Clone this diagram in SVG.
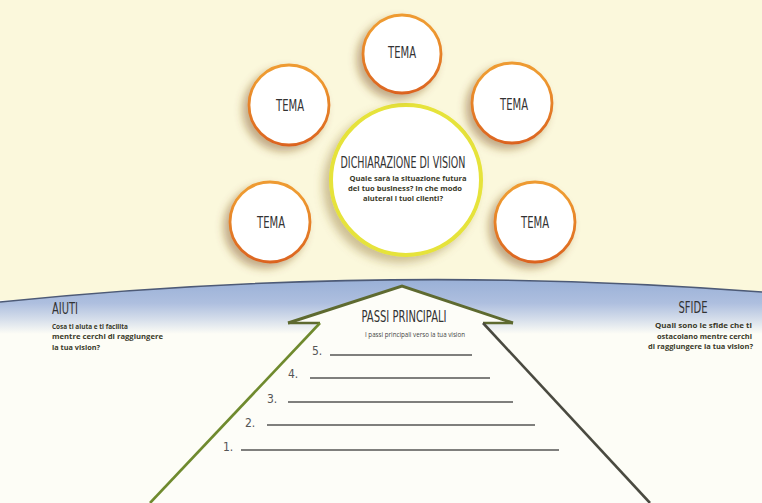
<svg xmlns="http://www.w3.org/2000/svg" width="762" height="503" viewBox="0 0 762 503">
<defs>
<linearGradient id="band" x1="0" y1="278" x2="0" y2="334" gradientUnits="userSpaceOnUse">
<stop offset="0" stop-color="#98afd6"/>
<stop offset="0.45" stop-color="#aebfdf"/>
<stop offset="0.72" stop-color="#d3dcea"/>
<stop offset="1" stop-color="#fdfdf6"/>
</linearGradient>
<radialGradient id="ring" cx="0.5" cy="0.35" r="0.7">
<stop offset="0.6" stop-color="#ee9a30"/>
<stop offset="1" stop-color="#d8581c"/>
</radialGradient>
<filter id="sh" x="-40%" y="-40%" width="180%" height="180%">
<feDropShadow dx="-5" dy="5" stdDeviation="4" flood-color="#7a4a18" flood-opacity="0.45"/>
</filter>
<filter id="shc" x="-40%" y="-40%" width="180%" height="180%">
<feDropShadow dx="-6" dy="6" stdDeviation="5" flood-color="#8a6a28" flood-opacity="0.4"/>
</filter>
</defs>
<style>
.tema{font-family:"DejaVu Sans Condensed","DejaVu Sans",sans-serif;font-size:16px;fill:#333;text-anchor:middle}
.ttl{font-family:"DejaVu Sans Condensed","DejaVu Sans",sans-serif;fill:#333}
.body{font-family:"Open Sans","DejaVu Sans",sans-serif;font-weight:bold;font-size:7px;fill:#3a3a2a}
.num{font-family:"DejaVu Sans Condensed","DejaVu Sans",sans-serif;font-size:12px;fill:#555}
.wl{stroke:#555;stroke-width:1.3}
.small{fill:#fff;stroke:url(#ring);stroke-width:2.8}
</style>
<rect x="0" y="0" width="762" height="503" fill="#fbf8dc"/>
<rect x="0" y="300" width="762" height="203" fill="#fdfdf6"/>
<path d="M0,302 Q380,263 762,292 L762,336 L0,336 Z" fill="url(#band)"/>
<path d="M0,302 Q380,263 762,292" fill="none" stroke="#4d5a76" stroke-width="1.6"/>

<g id="arrow">
<path d="M402,286 L513,323 L483,323 L650,503 L150,503 L320,323 L288,323 Z" fill="#fdfdf8"/>
<path d="M288,323 L402,286 L513,323" fill="none" stroke="#5e6a30" stroke-width="3"/>
<path d="M288,323 L320,323" fill="none" stroke="#5e6a30" stroke-width="2.5"/>
<path d="M483,323 L513,323" fill="none" stroke="#5e6a30" stroke-width="2.5"/>
<path d="M320,323 L150,503" fill="none" stroke="#6f8a2e" stroke-width="2.6"/>
<path d="M483,323 L650,503" fill="none" stroke="#4a4a40" stroke-width="2.6"/>
</g>

<g id="center">
<circle cx="406" cy="180" r="75" fill="#fff" stroke="#e6e33a" stroke-width="4" filter="url(#shc)"/>
<text class="ttl" x="403" y="168" font-size="15" text-anchor="middle" textLength="125" lengthAdjust="spacingAndGlyphs">DICHIARAZIONE DI VISION</text>
<text class="body" x="408" y="181" text-anchor="middle" textLength="117" lengthAdjust="spacingAndGlyphs">Quale sarà la situazione futura</text>
<text class="body" x="405" y="191" text-anchor="middle" textLength="114" lengthAdjust="spacingAndGlyphs">del tuo business? In che modo</text>
<text class="body" x="403" y="201" text-anchor="middle" textLength="80" lengthAdjust="spacingAndGlyphs">aiuterai i tuoi clienti?</text>
</g>

<g id="tema-top">
<circle cx="402" cy="54" r="39" class="small" filter="url(#sh)"/>
<text class="tema" x="402" y="58" textLength="28" lengthAdjust="spacingAndGlyphs">TEMA</text>
</g>
<g id="tema-ul">
<circle cx="289" cy="105" r="40" class="small" filter="url(#sh)"/>
<text class="tema" x="290" y="111" textLength="28" lengthAdjust="spacingAndGlyphs">TEMA</text>
</g>
<g id="tema-ur">
<circle cx="512" cy="103" r="40" class="small" filter="url(#sh)"/>
<text class="tema" x="514" y="110" textLength="28" lengthAdjust="spacingAndGlyphs">TEMA</text>
</g>
<g id="tema-ll">
<circle cx="270" cy="222" r="40" class="small" filter="url(#sh)"/>
<text class="tema" x="271" y="228" textLength="28" lengthAdjust="spacingAndGlyphs">TEMA</text>
</g>
<g id="tema-lr">
<circle cx="535" cy="222" r="40" class="small" filter="url(#sh)"/>
<text class="tema" x="535" y="228" textLength="28" lengthAdjust="spacingAndGlyphs">TEMA</text>
</g>

<g id="aiuti">
<text class="ttl" x="52" y="314" font-size="15" textLength="26" lengthAdjust="spacingAndGlyphs">AIUTI</text>
<text class="body" x="52" y="329" textLength="76" lengthAdjust="spacingAndGlyphs">Cosa ti aiuta e ti facilita</text>
<text class="body" x="52" y="339" textLength="111" lengthAdjust="spacingAndGlyphs">mentre cerchi di raggiungere</text>
<text class="body" x="52" y="350" textLength="48" lengthAdjust="spacingAndGlyphs">la tua vision?</text>
</g>

<g id="sfide">
<text class="ttl" x="693" y="313" font-size="15" text-anchor="middle" textLength="29" lengthAdjust="spacingAndGlyphs">SFIDE</text>
<text class="body" x="752" y="328" text-anchor="end" textLength="97" lengthAdjust="spacingAndGlyphs">Quali sono le sfide che ti</text>
<text class="body" x="752" y="339" text-anchor="end" textLength="95" lengthAdjust="spacingAndGlyphs">ostacolano mentre cerchi</text>
<text class="body" x="753" y="349" text-anchor="end" textLength="105" lengthAdjust="spacingAndGlyphs">di raggiungere la tua vision?</text>
</g>

<g id="passi">
<text class="ttl" x="404" y="322" font-size="16" text-anchor="middle" textLength="85" lengthAdjust="spacingAndGlyphs">PASSI PRINCIPALI</text>
<text class="body" x="415" y="337" text-anchor="middle" textLength="100" lengthAdjust="spacingAndGlyphs" style="font-weight:normal;fill:#444">I passi principali verso la tua vision</text>
<text class="num" x="312" y="355">5.</text>
<line class="wl" x1="330" y1="355" x2="472" y2="355"/>
<text class="num" x="288" y="378">4.</text>
<line class="wl" x1="310" y1="378" x2="490" y2="378"/>
<text class="num" x="267" y="403">3.</text>
<line class="wl" x1="288" y1="402" x2="513" y2="402"/>
<text class="num" x="245" y="427">2.</text>
<line class="wl" x1="267" y1="425" x2="535" y2="425"/>
<text class="num" x="223" y="451">1.</text>
<line class="wl" x1="241" y1="450" x2="559" y2="450"/>
</g>
</svg>
